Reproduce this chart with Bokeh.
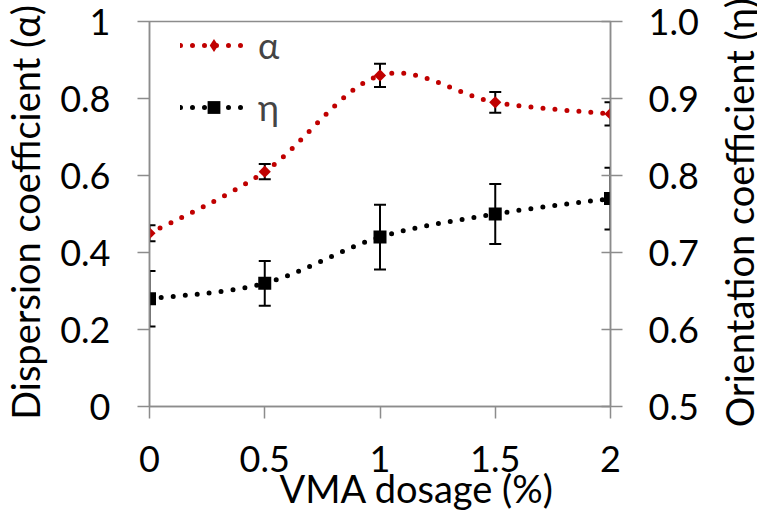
import math
from bokeh.plotting import figure
from bokeh.models import (Range1d, LinearAxis, FixedTicker, ColumnDataSource,
                          Whisker, TeeHead, Legend, LegendItem, Label, Title)
from bokeh.embed import file_html
from bokeh.resources import INLINE

# ---------------- data ----------------
dosage = [0, 0.5, 1, 1.5, 2]
alpha = [0.45, 0.61, 0.86, 0.79, 0.76]
alpha_err = [0.021, 0.02, 0.03, 0.027, 0.03]
eta = [0.64, 0.66, 0.72, 0.75, 0.77]
eta_err = [0.036, 0.029, 0.042, 0.039, 0.04]

x_ticks = [0, 0.5, 1, 1.5, 2]
x_tick_labels = ["0", "0.5", "1", "1.5", "2"]
left_ticks = [0, 0.2, 0.4, 0.6, 0.8, 1.0]
left_tick_labels = ["0", "0.2", "0.4", "0.6", "0.8", "1"]
right_ticks = [0.5, 0.6, 0.7, 0.8, 0.9, 1.0]
right_tick_labels = ["0.5", "0.6", "0.7", "0.8", "0.9", "1.0"]

x_title = "VMA dosage (%)"
left_title = "Dispersion coefficient (α)"
right_title = "Orientation coefficient (η)"

FONT = "Lato"
FS = "36px"
TFS = "38px"
AXIS_GRAY = "#8c8c8c"
RED = "#c00000"
BLACK = "#000000"


def smooth_segments(xs, ys):
    """Bezier control points for a smoothed line through the data points."""
    n = len(xs)
    out = dict(x0=[], y0=[], x1=[], y1=[], cx0=[], cy0=[], cx1=[], cy1=[])
    for i in range(n - 1):
        im = max(i - 1, 0)
        ip = min(i + 2, n - 1)
        out["x0"].append(xs[i]); out["y0"].append(ys[i])
        out["x1"].append(xs[i + 1]); out["y1"].append(ys[i + 1])
        out["cx0"].append(xs[i] + (xs[i + 1] - xs[im]) / 6.0)
        out["cy0"].append(ys[i] + (ys[i + 1] - ys[im]) / 6.0)
        out["cx1"].append(xs[i + 1] - (xs[ip] - xs[i]) / 6.0)
        out["cy1"].append(ys[i + 1] - (ys[ip] - ys[i]) / 6.0)
    return out


p = figure(width=757, height=517, x_range=Range1d(0, 2), y_range=Range1d(0, 1),
           output_backend="svg", toolbar_location=None,
           min_border_left=149, min_border_right=147,
           min_border_top=21, min_border_bottom=111)
p.extra_y_ranges = {"right": Range1d(0.5, 1.0)}
p.xgrid.visible = False
p.ygrid.visible = False
p.outline_line_color = AXIS_GRAY
p.outline_line_width = 1.5
p.background_fill_color = "white"
p.border_fill_color = "white"


def style_axis(ax, ticks, labels):
    ax.ticker = FixedTicker(ticks=ticks)
    ax.major_label_overrides = {t: l for t, l in zip(ticks, labels)}
    ax.axis_line_color = AXIS_GRAY
    ax.axis_line_width = 1.5
    ax.major_tick_line_color = AXIS_GRAY
    ax.major_tick_line_width = 1.5
    ax.minor_tick_line_color = None
    ax.major_label_text_font = FONT
    ax.major_label_text_font_size = FS
    ax.major_label_text_color = "black"


# bottom axis
xa = p.xaxis[0]
style_axis(xa, x_ticks, x_tick_labels)
xa.major_tick_out = 12
xa.major_tick_in = 0
xa.major_label_standoff = 27

# left axis
ya = p.yaxis[0]
style_axis(ya, left_ticks, left_tick_labels)
ya.major_tick_out = 12
ya.major_tick_in = 0
ya.major_label_standoff = 27

# right axis
ra = LinearAxis(y_range_name="right")
style_axis(ra, right_ticks, right_tick_labels)
ra.major_tick_out = 12
ra.major_tick_in = 9
ra.major_label_standoff = 26
p.add_layout(ra, "right")

# ---------------- axis titles ----------------
p.add_layout(Title(text=x_title, align="left", offset=130, vertical_align="top",
                   standoff=-20, text_font=FONT, text_font_size=TFS,
                   text_font_style="normal", text_color="black"), "below")

side_title = dict(text_font=FONT, text_font_size=TFS, text_color="black",
                  x_units="canvas", y_units="canvas", angle=math.pi / 2,
                  text_align="center", text_baseline="alphabetic")
p.add_layout(Label(x=24, y=212.5, text=left_title, **side_title), "left")
p.add_layout(Label(x=738, y=212.5, text=right_title, **side_title), "right")

# ---------------- series ----------------
DASH = "0 12"
LW = 5

a_seg = ColumnDataSource(smooth_segments(dosage, alpha))
e_seg = ColumnDataSource(smooth_segments(dosage, eta))
la = p.bezier(x0="x0", y0="y0", x1="x1", y1="y1", cx0="cx0", cy0="cy0", cx1="cx1", cy1="cy1",
              source=a_seg, line_color=RED, line_width=LW, line_dash=DASH, line_cap="round")
le = p.bezier(x0="x0", y0="y0", x1="x1", y1="y1", cx0="cx0", cy0="cy0", cx1="cx1", cy1="cy1",
              source=e_seg, line_color=BLACK, line_width=LW, line_dash=DASH, line_cap="round",
              y_range_name="right")

a_src = ColumnDataSource(dict(x=dosage, y=alpha,
                              lo=[v - e for v, e in zip(alpha, alpha_err)],
                              hi=[v + e for v, e in zip(alpha, alpha_err)]))
e_src = ColumnDataSource(dict(x=dosage, y=eta,
                              lo=[v - e for v, e in zip(eta, eta_err)],
                              hi=[v + e for v, e in zip(eta, eta_err)]))

for src, rng in ((a_src, "default"), (e_src, "right")):
    w = Whisker(source=src, base="x", lower="lo", upper="hi", dimension="height",
                line_color="black", line_width=2,
                upper_head=TeeHead(size=12, line_color="black", line_width=2),
                lower_head=TeeHead(size=12, line_color="black", line_width=2))
    if rng == "right":
        w.y_range_name = "right"
    p.add_layout(w)

p.scatter(x="x", y="y", source=a_src, marker="square", size=8.6, angle=math.pi / 4,
          fill_color=RED, line_color=RED, line_width=0)
me = p.scatter(x="x", y="y", source=e_src, marker="square", size=13,
               fill_color=BLACK, line_color=BLACK, line_width=0, y_range_name="right")

# diamond used for the legend swatch only (hidden in the plot area)
ma = p.scatter(x="x", y="y", source=a_src, marker="diamond", size=13,
               fill_color=RED, line_color=RED, line_width=0, visible=False)

legend = Legend(items=[LegendItem(label="α", renderers=[la, ma]),
                       LegendItem(label="η", renderers=[le, me])],
                location=(31, 277), orientation="vertical",
                glyph_width=67, glyph_height=32, label_height=32, spacing=18,
                label_standoff=11, padding=0, margin=0,
                label_text_font=FONT, label_text_font_size=FS,
                inactive_fill_alpha=0, click_policy="none",
                background_fill_alpha=0, border_line_color=None)
p.add_layout(legend)

open("out.html", "w").write(file_html(p, INLINE))
